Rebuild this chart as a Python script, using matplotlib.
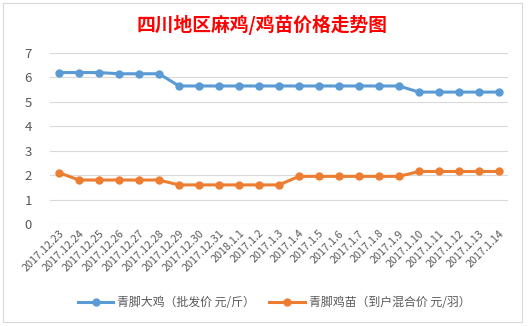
import matplotlib
matplotlib.use("Agg")
import matplotlib.pyplot as plt
from matplotlib.patches import Rectangle

plt.rcParams['font.family'] = ['Noto Sans CJK SC', 'DejaVu Sans']

dates = ["2017.12.23", "2017.12.24", "2017.12.25", "2017.12.26", "2017.12.27",
         "2017.12.28", "2017.12.29", "2017.12.30", "2017.12.31", "2018.1.1",
         "2017.1.2", "2017.1.3", "2017.1.4", "2017.1.5", "2017.1.6", "2017.1.7",
         "2017.1.8", "2017.1.9", "2017.1.10", "2017.1.11", "2017.1.12",
         "2017.1.13", "2017.1.14"]
big_chicken = [6.2, 6.2, 6.2, 6.15, 6.15, 6.15, 5.65, 5.65, 5.65, 5.65, 5.65,
               5.65, 5.65, 5.65, 5.65, 5.65, 5.65, 5.65, 5.4, 5.4, 5.4, 5.4, 5.4]
chick = [2.1, 1.8, 1.8, 1.8, 1.8, 1.8, 1.6, 1.6, 1.6, 1.6, 1.6, 1.6, 1.95,
         1.95, 1.95, 1.95, 1.95, 1.95, 2.15, 2.15, 2.15, 2.15, 2.15]
title = "四川地区麻鸡/鸡苗价格走势图"
label_big = "青脚大鸡（批发价 元/斤）"
label_chick = "青脚鸡苗（到户混合价 元/羽）"

W, H = 528, 326
fig = plt.figure(figsize=(W / 100, H / 100), dpi=100)

# chart border
fig.patches.append(Rectangle((3 / W, 1 - 322 / H), 519 / W, 319 / H,
                             transform=fig.transFigure, fill=False,
                             edgecolor='#d9d9d9', linewidth=0.8))

ax = fig.add_axes([50 / W, 1 - 224 / H, 458 / W, 171 / H])
x = list(range(len(dates)))
ax.plot(x, big_chicken, color='#5b9bd5', linewidth=2.2, marker='o',
        markersize=5, label=label_big)
ax.plot(x, chick, color='#ed7d31', linewidth=2.2, marker='o',
        markersize=5, label=label_chick)

ax.set_ylim(0, 7)
ax.set_yticks(range(0, 8))
ax.set_xlim(-0.45, len(dates) - 0.55)
ax.set_xticks(x)
ax.set_xticklabels(dates, rotation=45, ha='right', rotation_mode='anchor',
                   fontsize=7.8, color='#595959')
ax.tick_params(axis='y', labelsize=9.5, labelcolor='#595959', length=0, pad=13)
ax.tick_params(axis='x', length=0, pad=3)
ax.grid(axis='y', color='#d9d9d9', linewidth=0.8)
ax.set_axisbelow(True)
for s in ax.spines.values():
    s.set_visible(False)

fig.text(262 / W, 1 - 25 / H, title, ha='center', va='center',
         color='#ff0000', fontsize=13.5, fontweight='bold')

fig.legend(loc='center', bbox_to_anchor=(274 / W, 1 - 303 / H), ncol=2,
           frameon=False, fontsize=8.6, labelcolor='#595959',
           handlelength=3, columnspacing=1.2, handletextpad=0.3)

fig.savefig('out.png', dpi=100)
